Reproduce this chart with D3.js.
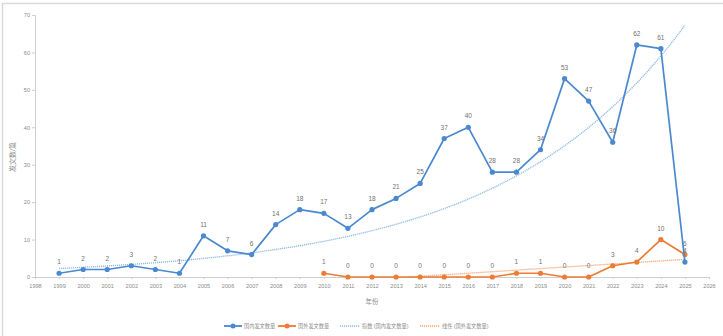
<!DOCTYPE html>
<html>
<head>
<meta charset="utf-8">
<script src="https://cdn.jsdelivr.net/npm/d3@7"></script>
<style>
  body { margin: 0; background: #fff; }
  svg { display: block; font-family: "Liberation Sans", "Noto Sans CJK SC", sans-serif; }
</style>
</head>
<body>
<svg id="chart" width="723" height="336"></svg>
<script>
// years and counts
const domesticYears = [1999, 2000, 2001, 2002, 2003, 2004, 2005, 2006, 2007, 2008, 2009, 2010, 2011,
  2012, 2013, 2014, 2015, 2016, 2017, 2018, 2019, 2020, 2021, 2022, 2023, 2024, 2025];
const domesticCounts = [1, 2, 2, 3, 2, 1, 11, 7, 6, 14, 18, 17, 13,
  18, 21, 25, 37, 40, 28, 28, 34, 53, 47, 36, 62, 61, 4];
const foreignYears = [2010, 2011, 2012, 2013, 2014, 2015, 2016, 2017, 2018, 2019, 2020, 2021, 2022, 2023, 2024, 2025];
const foreignCounts = [1, 0, 0, 0, 0, 0, 0, 0, 1, 1, 0, 0, 3, 4, 10, 6];
const yTicks = [0, 10, 20, 30, 40, 50, 60, 70];
const xTicks = d3.range(1998, 2027);
const legendNames = ["国内发文数量", "国外发文数量", "指数 (国内发文数量)", "线性 (国外发文数量)"];

const blue = "#4a89cf", orange = "#ed7b34";
const blueTrend = "#93bde8", orangeTrend = "#f2a774";

const svg = d3.select("#chart");

// chart border
svg.append("rect")
  .attr("x", 2.5).attr("y", 3.5)
  .attr("width", 730).attr("height", 340)
  .attr("fill", "none").attr("stroke", "#d9d9d9").attr("stroke-width", 1.5);

const x = d3.scaleLinear().domain([1998, 2026]).range([35, 709]);
const y = d3.scaleLinear().domain([0, 70]).range([277, 15]);

// axes
const yAxis = svg.append("g")
  .attr("transform", "translate(35,0)")
  .call(d3.axisLeft(y).tickValues(yTicks).tickSize(3).tickPadding(2));
const xAxis = svg.append("g")
  .attr("transform", "translate(0,277)")
  .call(d3.axisBottom(x).tickValues(xTicks).tickFormat(d3.format("d")).tickSize(2).tickPadding(5));
[xAxis, yAxis].forEach(g => {
  g.select(".domain").attr("stroke", "#cfcfcf").attr("stroke-width", 1);
  g.selectAll(".tick line").attr("stroke", "#cfcfcf");
  g.selectAll("text").attr("fill", "#8c8c8c").style("font-size", "5.6px").attr("font-family", "Liberation Sans");
});

// axis titles
svg.append("text")
  .attr("transform", "translate(15,157) rotate(-90)")
  .attr("text-anchor", "middle")
  .attr("fill", "#8c8c8c").style("font-size", "7px")
  .text("发文数/篇");
svg.append("text")
  .attr("x", 372).attr("y", 304)
  .attr("text-anchor", "middle")
  .attr("fill", "#8c8c8c").style("font-size", "6.5px")
  .text("年份");

// clip for trend lines
svg.append("clipPath").attr("id", "plot")
  .append("rect").attr("x", 35).attr("y", 15).attr("width", 674).attr("height", 262);

// exponential trend (Excel style: least squares on ln y)
function expFit(xs, ys) {
  const ly = ys.map(Math.log);
  const mx = d3.mean(xs), my = d3.mean(ly);
  const b = d3.sum(xs, (v, i) => (v - mx) * (ly[i] - my)) / d3.sum(xs, v => (v - mx) ** 2);
  return t => Math.exp(my + b * (t - mx));
}
function linFit(xs, ys) {
  const mx = d3.mean(xs), my = d3.mean(ys);
  const b = d3.sum(xs, (v, i) => (v - mx) * (ys[i] - my)) / d3.sum(xs, v => (v - mx) ** 2);
  return t => my + b * (t - mx);
}
const expF = expFit(domesticYears, domesticCounts);
const linF = linFit(foreignYears, foreignCounts);

const trendLine = d3.line().x(d => x(d[0])).y(d => y(d[1]));
const expPts = d3.range(1999, 2025.001, 0.1).map(t => [t, expF(t)]);
svg.append("path")
  .attr("d", trendLine(expPts))
  .attr("clip-path", "url(#plot)")
  .attr("fill", "none").attr("stroke", blueTrend).attr("stroke-width", 1.4)
  .attr("stroke-dasharray", "1.2,0.8");
const linPts = [[2010, linF(2010)], [2025, linF(2025)]];
svg.append("path")
  .attr("d", trendLine(linPts))
  .attr("clip-path", "url(#plot)")
  .attr("fill", "none").attr("stroke", orangeTrend).attr("stroke-width", 1.3)
  .attr("stroke-dasharray", "1.2,0.8");

// series
function drawSeries(years, counts, color) {
  const pts = years.map((t, i) => [t, counts[i]]);
  svg.append("path")
    .attr("d", d3.line().x(d => x(d[0])).y(d => y(d[1]))(pts))
    .attr("fill", "none").attr("stroke", color).attr("stroke-width", 1.7)
    .attr("stroke-linejoin", "round");
  svg.append("g").selectAll("circle").data(pts).join("circle")
    .attr("cx", d => x(d[0])).attr("cy", d => y(d[1])).attr("r", 2.6)
    .attr("fill", color);
  svg.append("g").selectAll("text").data(pts).join("text")
    .attr("x", d => x(d[0])).attr("y", d => y(d[1]) - 9)
    .attr("text-anchor", "middle")
    .attr("fill", "#707070").style("font-size", "6.5px")
    .text(d => d[1]);
}
drawSeries(foreignYears, foreignCounts, orange);
drawSeries(domesticYears, domesticCounts, blue);

// legend
const legend = svg.append("g").attr("transform", "translate(0,326)");
const legendItems = [
  { x: 224, color: blue, marker: true, dash: null, w: 18 },
  { x: 278, color: orange, marker: true, dash: null, w: 18 },
  { x: 340, color: blueTrend, marker: false, dash: "1.2,0.8", w: 20 },
  { x: 420, color: orangeTrend, marker: false, dash: "1.2,0.8", w: 20 }
];
legendItems.forEach((it, i) => {
  legend.append("line")
    .attr("x1", it.x).attr("x2", it.x + it.w)
    .attr("stroke", it.color).attr("stroke-width", it.marker ? 1.8 : 1.3)
    .attr("stroke-dasharray", it.dash);
  if (it.marker) {
    legend.append("circle").attr("cx", it.x + it.w / 2).attr("r", 2.5).attr("fill", it.color);
  }
  legend.append("text")
    .attr("x", it.x + it.w + 2).attr("y", 2)
    .attr("fill", "#8c8c8c").style("font-size", "5.2px")
    .text(legendNames[i]);
});
</script>
</body>
</html>
